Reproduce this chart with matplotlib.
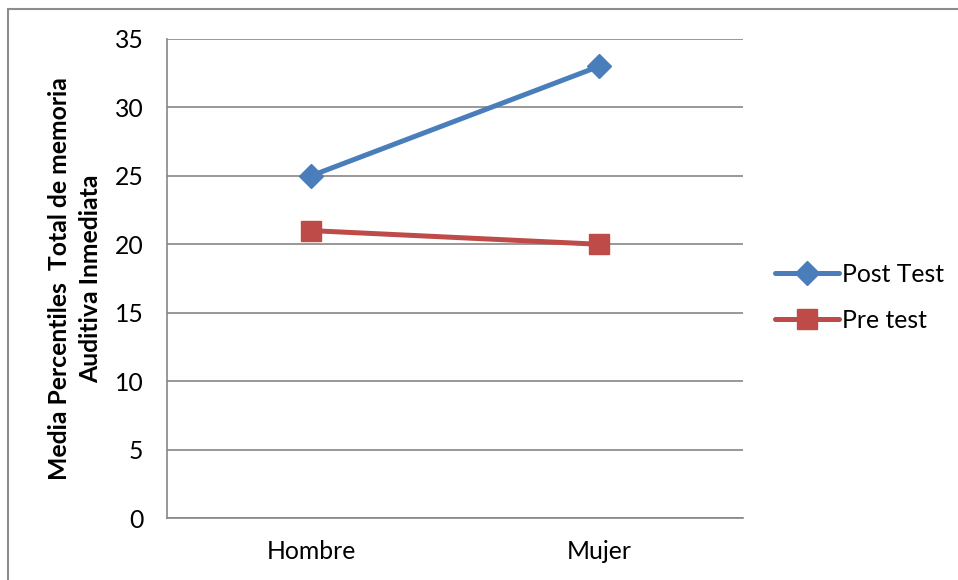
import matplotlib
matplotlib.use("Agg")
import matplotlib.pyplot as plt
from matplotlib.patches import Rectangle

categories = ["Hombre", "Mujer"]
post_test = [25, 33]
pre_test = [21, 20]
y_ticks = [0, 5, 10, 15, 20, 25, 30, 35]

plt.rcParams['font.family'] = ['Lato', 'DejaVu Sans']

fig = plt.figure(figsize=(9.58, 5.8), dpi=100)
ax = fig.add_axes([167 / 958, 1 - 518 / 580, (743 - 167) / 958, (518 - 39) / 580])

grey = "#868686"
fs = 17.8
x = list(range(len(categories)))
ax.plot(x, post_test, color="#4A7EBB", lw=3.6, marker="D", markersize=12.5,
        label="Post Test", solid_capstyle="round", zorder=3)
ax.plot(x, pre_test, color="#BE4B48", lw=3.6, marker="s", markersize=14.5,
        label="Pre test", solid_capstyle="round", zorder=3)

ax.set_xlim(-0.5, 1.5)
ax.set_ylim(0, 35)
ax.set_yticks(y_ticks)
ax.set_xticks(x)
ax.set_xticklabels(categories)
ax.tick_params(length=0, labelsize=fs)
ax.tick_params(axis="x", pad=16)
ax.tick_params(axis="y", pad=17)
ax.grid(axis="y", color=grey, lw=1.2)
ax.set_axisbelow(True)
for s in ["top", "right"]:
    ax.spines[s].set_visible(False)
for s in ["left", "bottom"]:
    ax.spines[s].set_color(grey)
    ax.spines[s].set_linewidth(1.2)

ax.set_ylabel("Media Percentiles  Total de memoria\nAuditiva Inmediata",
              fontsize=fs, fontweight="bold", linespacing=1.45)
ax.yaxis.set_label_coords(-0.1120, 0.5)

leg = ax.legend(loc="center left", bbox_to_anchor=(1.0556, 0.461), frameon=False,
                fontsize=fs, handlelength=2.6, handletextpad=0.12,
                labelspacing=0.92, borderaxespad=0, borderpad=0)

fig.patches.append(Rectangle((8 / 958, -0.1), 1.2, 1 - 9 / 580 + 0.1,
                             transform=fig.transFigure, fill=False,
                             edgecolor="#8c8c8c", lw=1.5))

fig.savefig("out.png", dpi=100)
